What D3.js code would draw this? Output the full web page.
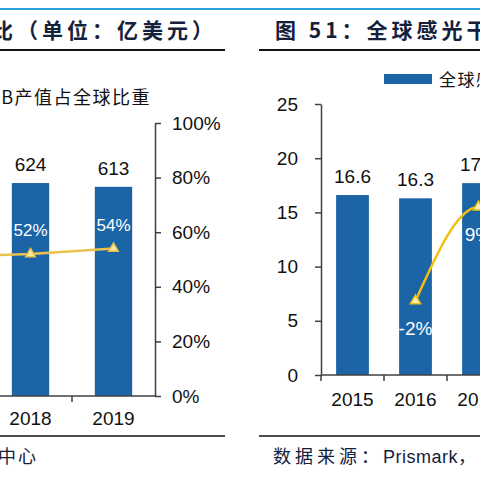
<!DOCTYPE html>
<html>
<head>
<meta charset="utf-8">
<script src="https://cdn.jsdelivr.net/npm/d3@7"></script>
<style>
  body { margin: 0; background: #fff; }
  text { font-family: "Liberation Sans", Arial, sans-serif; }
  .cjk { font-family: "Noto Sans CJK SC", sans-serif; }
</style>
</head>
<body>
<div id="chart"></div>
<script>
// left chart: global PCB output and China share
const leftYears = ["2017", "2018", "2019"];
const pcbValue = [588, 624, 613];
const chinaShare = [0.51, 0.52, 0.54];
const shareTicks = [0, 0.2, 0.4, 0.6, 0.8, 1];

// right chart: global dry film market
const rightYears = ["2015", "2016", "2017", "2018"];
const filmValue = [16.6, 16.3, 17.7, 18.5];
const filmGrowth = [null, -1.8, 8.6, 4.5];
const filmTicks = [0, 5, 10, 15, 20, 25];

const blue = "#1b64a6";
const axisColor = "#404040";
const navy = "#14213d";

let svg = d3.select("#chart")
    .append("svg")
    .attr("width", 480)
    .attr("height", 480);

// page furniture
svg.append("line").attr("x1", 0).attr("x2", 480).attr("y1", 9).attr("y2", 9)
    .attr("stroke", "#2aa3dc").attr("stroke-width", 2);
[[0, 225], [259, 480]].forEach(function(s) {
    svg.append("line").attr("x1", s[0]).attr("x2", s[1]).attr("y1", 50).attr("y2", 50)
        .attr("stroke", "#111").attr("stroke-width", 2);
    svg.append("line").attr("x1", s[0]).attr("x2", s[1]).attr("y1", 436).attr("y2", 436)
        .attr("stroke", "#111").attr("stroke-width", 1.5);
});

svg.append("text").attr("class", "cjk")
    .attr("x", 217).attr("y", 38)
    .style("text-anchor", "end").style("font-size", "21px").style("font-weight", "bold")
    .style("letter-spacing", "4px").attr("fill", navy)
    .text("图 50：全球PCB产值及中国占比（单位：亿美元）");

svg.append("text").attr("class", "cjk")
    .attr("x", 275).attr("y", 38)
    .style("font-size", "21px").style("font-weight", "bold")
    .style("letter-spacing", "4px").attr("fill", navy)
    .text("图 51：全球感光干膜市场规模（单位：亿美元）");

svg.append("text").attr("class", "cjk")
    .attr("x", 38).attr("y", 463)
    .style("text-anchor", "end").style("font-size", "18px").style("letter-spacing", "2px")
    .attr("fill", navy)
    .text("数据来源：Prismark，研究中心");

let src = svg.append("text")
    .attr("x", 273).attr("y", 463)
    .style("font-size", "18px")
    .attr("fill", navy);
src.append("tspan").attr("class", "cjk").style("letter-spacing", "4px").text("数据来源：");
src.append("tspan").style("letter-spacing", "0.5px").text("Prismark");
src.append("tspan").attr("class", "cjk").text("，");

// ---------- left chart ----------
let xL = d3.scaleBand().domain(leftYears).range([-94, 155]);
let yL = d3.scaleLinear().domain([0, 800]).range([396, 123]);
let yPct = d3.scaleLinear().domain([0, 1]).range([396, 123]);

let gL = svg.append("g");

gL.selectAll("rect").data(leftYears).enter()
    .append("rect")
    .attr("fill", blue)
    .attr("x", function(d) { return xL(d) + xL.bandwidth() * 0.275 })
    .attr("width", xL.bandwidth() * 0.45)
    .attr("y", function(d, i) { return yL(pcbValue[i]) })
    .attr("height", function(d, i) { return yL(0) - yL(pcbValue[i]) });

gL.selectAll(".val").data(leftYears).enter()
    .append("text")
    .attr("x", function(d) { return xL(d) + xL.bandwidth() / 2 })
    .attr("y", function(d, i) { return yL(pcbValue[i]) - 12 })
    .style("text-anchor", "middle").style("font-size", "19px").attr("fill", "#111")
    .text(function(d, i) { return pcbValue[i] });

// x axis
gL.append("line").attr("x1", -94).attr("x2", 155).attr("y1", 396).attr("y2", 396)
    .attr("stroke", axisColor).attr("stroke-width", 1.5);
gL.selectAll(".xt").data(leftYears.slice(1)).enter()
    .append("line")
    .attr("x1", function(d) { return xL(d) }).attr("x2", function(d) { return xL(d) })
    .attr("y1", 396).attr("y2", 402)
    .attr("stroke", axisColor).attr("stroke-width", 1.5);
gL.selectAll(".xl").data(leftYears).enter()
    .append("text")
    .attr("x", function(d) { return xL(d) + xL.bandwidth() / 2 })
    .attr("y", 425)
    .style("text-anchor", "middle").style("font-size", "19px").attr("fill", "#111")
    .text(function(d) { return d });

// right percent axis
let pctAxis = gL.append("g")
    .attr("transform", "translate(155,0)")
    .call(d3.axisRight(yPct).tickValues(shareTicks).tickSize(6).tickSizeOuter(0).tickPadding(11)
        .tickFormat(d3.format(".0%")));
pctAxis.selectAll("path, line").attr("stroke", axisColor).attr("stroke-width", 1.5);
pctAxis.selectAll("text").style("font-size", "19px").attr("fill", "#111")
    .style("font-family", "Liberation Sans, Arial, sans-serif");

// share line
let shareLine = d3.line()
    .x(function(d) { return xL(d) + xL.bandwidth() / 2 })
    .y(function(d, i) { return yPct(chinaShare[i]) });
gL.append("path").datum(leftYears)
    .attr("d", shareLine)
    .attr("fill", "none").attr("stroke", "#e9c24e").attr("stroke-width", 2.5);
gL.selectAll(".mk").data(leftYears).enter()
    .append("path")
    .attr("d", d3.symbol(d3.symbolTriangle, 40))
    .attr("transform", function(d, i) {
        return "translate(" + (xL(d) + xL.bandwidth() / 2) + "," + yPct(chinaShare[i]) + ")" })
    .attr("fill", "#fbe9a6").attr("stroke", "#e9c24e").attr("stroke-width", 1.5);
gL.selectAll(".pl").data(leftYears).enter()
    .append("text")
    .attr("x", function(d) { return xL(d) + xL.bandwidth() / 2 })
    .attr("y", function(d, i) { return yPct(chinaShare[i]) - 18 })
    .style("text-anchor", "middle").style("font-size", "17px").attr("fill", "#fff")
    .text(function(d, i) { return Math.round(chinaShare[i] * 100) + "%" });

// legend (line series)
gL.append("text").attr("class", "cjk")
    .attr("x", 151).attr("y", 104)
    .style("text-anchor", "end").style("font-size", "18px").style("letter-spacing", "1.5px")
    .attr("fill", "#111")
    .text("中国PCB产值占全球比重");

// ---------- right chart ----------
let xR = d3.scaleBand().domain(rightYears).range([321, 321 + 63 * rightYears.length]);
let yR = d3.scaleLinear().domain([0, 25]).range([375, 104]);
let yG = d3.scaleLinear().domain([-10, 20]).range([375, 104]);

let gR = svg.append("g");

gR.selectAll("rect").data(rightYears).enter()
    .append("rect")
    .attr("fill", blue)
    .attr("x", function(d) { return xR(d) + xR.bandwidth() * 0.24 })
    .attr("width", xR.bandwidth() * 0.52)
    .attr("y", function(d, i) { return yR(filmValue[i]) })
    .attr("height", function(d, i) { return yR(0) - yR(filmValue[i]) });

gR.selectAll(".val").data(rightYears).enter()
    .append("text")
    .attr("x", function(d) { return xR(d) + xR.bandwidth() / 2 })
    .attr("y", function(d, i) { return yR(filmValue[i]) - 12 })
    .style("text-anchor", "middle").style("font-size", "19px").attr("fill", "#111")
    .text(function(d, i) { return filmValue[i].toFixed(1) });

let valAxis = gR.append("g")
    .attr("transform", "translate(321,0)")
    .call(d3.axisLeft(yR).tickValues(filmTicks).tickSize(6).tickSizeOuter(0).tickPadding(17));
valAxis.selectAll("path, line").attr("stroke", axisColor).attr("stroke-width", 1.5);
valAxis.selectAll("text").style("font-size", "19px").attr("fill", "#111")
    .style("font-family", "Liberation Sans, Arial, sans-serif");

gR.append("line").attr("x1", 321).attr("x2", 321 + 63 * rightYears.length).attr("y1", 375).attr("y2", 375)
    .attr("stroke", axisColor).attr("stroke-width", 1.5);
gR.selectAll(".xt").data(rightYears).enter()
    .append("line")
    .attr("x1", function(d) { return xR(d) }).attr("x2", function(d) { return xR(d) })
    .attr("y1", 375).attr("y2", 381)
    .attr("stroke", axisColor).attr("stroke-width", 1.5);
gR.selectAll(".xl").data(rightYears).enter()
    .append("text")
    .attr("x", function(d) { return xR(d) + xR.bandwidth() / 2 })
    .attr("y", 406)
    .style("text-anchor", "middle").style("font-size", "19px").attr("fill", "#111")
    .text(function(d) { return d });

let growthYears = rightYears.filter(function(d, i) { return filmGrowth[i] !== null });
let growthOf = function(d) { return filmGrowth[rightYears.indexOf(d)] };
let growthLine = d3.line()
    .curve(d3.curveMonotoneX)
    .x(function(d) { return xR(d) + xR.bandwidth() / 2 })
    .y(function(d) { return yG(growthOf(d)) });
gR.append("path").datum(growthYears)
    .attr("d", growthLine)
    .attr("fill", "none").attr("stroke", "#f3bf12").attr("stroke-width", 2.5);
gR.selectAll(".mk").data(growthYears).enter()
    .append("path")
    .attr("d", d3.symbol(d3.symbolTriangle, 45))
    .attr("transform", function(d) {
        return "translate(" + (xR(d) + xR.bandwidth() / 2) + "," + yG(growthOf(d)) + ")" })
    .attr("fill", "#fdf0b8").attr("stroke", "#f3bf12").attr("stroke-width", 1.5);
gR.selectAll(".pl").data(growthYears).enter()
    .append("text")
    .attr("x", function(d) { return xR(d) + xR.bandwidth() / 2 })
    .attr("y", function(d) { return yG(growthOf(d)) + 34 })
    .style("text-anchor", "middle").style("font-size", "19px").attr("fill", "#fff")
    .text(function(d) { return Math.round(growthOf(d)) + "%" });

// legend (bar series)
gR.append("rect").attr("x", 384).attr("y", 74).attr("width", 48).attr("height", 10).attr("fill", blue);
gR.append("text").attr("class", "cjk")
    .attr("x", 439).attr("y", 86)
    .style("font-size", "17px").style("letter-spacing", "1.5px").attr("fill", "#111")
    .text("全球感光干膜市场规模");
</script>
</body>
</html>
